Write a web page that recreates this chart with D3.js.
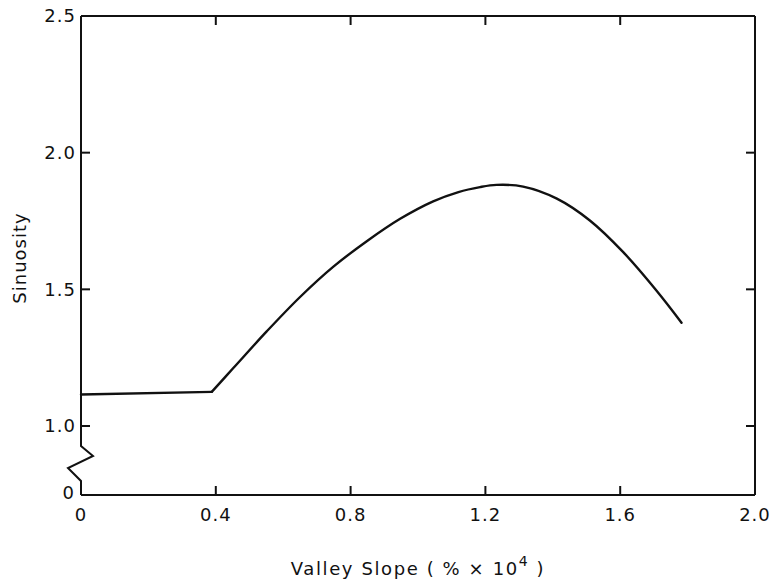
<!DOCTYPE html>
<html>
<head>
<meta charset="utf-8">
<script src="https://cdn.jsdelivr.net/npm/d3@7"></script>
<style>
  html, body { margin: 0; padding: 0; background: #fff; }
  svg { display: block; }
  text { font-family: "DejaVu Sans", sans-serif; fill: #111; }
</style>
</head>
<body>
<svg id="chart" width="779" height="580"></svg>
<script>
// ---- data ----
const slope = [0.0, 0.388, 0.452, 0.551, 0.650, 0.749, 0.848, 0.947, 1.045, 1.120, 1.184, 1.233, 1.312, 1.412, 1.510, 1.609, 1.708, 1.782];
const sinuosity = [1.115, 1.125, 1.212, 1.346, 1.472, 1.583, 1.676, 1.758, 1.822, 1.856, 1.874, 1.882, 1.876, 1.832, 1.752, 1.636, 1.495, 1.378];
const xTicks = [0, 0.4, 0.8, 1.2, 1.6, 2.0];
const xTickLabels = ["0", "0.4", "0.8", "1.2", "1.6", "2.0"];
const yTicks = [0, 1.0, 1.5, 2.0, 2.5];
const yTickLabels = ["0", "1.0", "1.5", "2.0", "2.5"];
const xTitle = "Valley Slope ( % \u00D7 10";
const xTitleSup = "4";
const yTitle = "Sinuosity";

// ---- layout ----
const pLeft = 81, pRight = 755, pTop = 16, pBottom = 495;
const svg = d3.select("#chart");

const x = d3.scaleLinear().domain([0, 2.0]).range([pLeft, pRight]);
// broken axis: 0..1.0 is compressed
const y = d3.scaleLinear().domain([0, 1.0, 2.5]).range([pBottom, 426, pTop]);

const stroke = "#111";
const tickLen = 9;

const g = svg.append("g");
g.append("line").attr("x1", pLeft).attr("x2", pRight).attr("y1", pTop).attr("y2", pTop)
  .attr("stroke", stroke).attr("stroke-width", 2);
g.append("line").attr("x1", pRight).attr("x2", pRight).attr("y1", pTop).attr("y2", pBottom)
  .attr("stroke", stroke).attr("stroke-width", 2);
g.append("line").attr("x1", pLeft).attr("x2", pRight).attr("y1", pBottom).attr("y2", pBottom)
  .attr("stroke", stroke).attr("stroke-width", 2);

// left axis with zigzag break between 0 and 1.0
const yBreakTop = y(1.0) + 20, yBreakBot = pBottom - 14;
const zig = [
  [pLeft, pTop], [pLeft, yBreakTop],
  [pLeft + 12, yBreakTop + 10],
  [pLeft - 13, yBreakTop + 22],
  [pLeft, yBreakBot],
  [pLeft, pBottom]
];
g.append("path").attr("d", d3.line()(zig)).attr("fill", "none")
  .attr("stroke", stroke).attr("stroke-width", 2).attr("stroke-linejoin", "miter");

// x ticks (bottom and top, inward)
xTicks.forEach((t, i) => {
  if (i > 0 && i < xTicks.length - 1) {
    g.append("line").attr("x1", x(t)).attr("x2", x(t)).attr("y1", pBottom).attr("y2", pBottom - tickLen)
      .attr("stroke", stroke).attr("stroke-width", 2);
    g.append("line").attr("x1", x(t)).attr("x2", x(t)).attr("y1", pTop).attr("y2", pTop + tickLen)
      .attr("stroke", stroke).attr("stroke-width", 2);
  }
  g.append("text").attr("x", x(t)).attr("y", pBottom + 26)
    .attr("text-anchor", "middle").attr("font-size", 18).attr("letter-spacing", 1)
    .text(xTickLabels[i]);
});

// y ticks (left and right, inward)
yTicks.forEach((t, i) => {
  if (t > 0 && t < 2.5) {
    g.append("line").attr("x1", pLeft).attr("x2", pLeft + tickLen).attr("y1", y(t)).attr("y2", y(t))
      .attr("stroke", stroke).attr("stroke-width", 2);
    g.append("line").attr("x1", pRight).attr("x2", pRight - tickLen).attr("y1", y(t)).attr("y2", y(t))
      .attr("stroke", stroke).attr("stroke-width", 2);
  }
  g.append("text").attr("x", t === 0 ? pLeft - 6 : pLeft - 5).attr("y", y(t) + (t === 0 ? -2 : 0))
    .attr("dy", "0.36em")
    .attr("text-anchor", "end").attr("font-size", 18).attr("letter-spacing", 1)
    .text(yTickLabels[i]);
});

// curve: flat linear part, then smooth hump
const pts = slope.map((s, i) => [x(s), y(sinuosity[i])]);
g.append("path").attr("d", d3.line()(pts.slice(0, 2)))
  .attr("fill", "none").attr("stroke", stroke).attr("stroke-width", 2.4)
  .attr("stroke-linecap", "round");
g.append("path").attr("d", d3.line().curve(d3.curveCatmullRom.alpha(0.5))(pts.slice(1)))
  .attr("fill", "none").attr("stroke", stroke).attr("stroke-width", 2.4)
  .attr("stroke-linejoin", "round").attr("stroke-linecap", "round");

// axis titles
const xt = g.append("text").attr("x", 418).attr("y", 575)
  .attr("text-anchor", "middle").attr("font-size", 18).attr("letter-spacing", 1.6);
xt.append("tspan").text(xTitle);
xt.append("tspan").attr("dy", -9).attr("font-size", 14).text(xTitleSup);
xt.append("tspan").attr("dy", 9).text(" )");

g.append("text").attr("transform", "translate(26,258) rotate(-90)")
  .attr("text-anchor", "middle").attr("font-size", 18).attr("letter-spacing", 1)
  .text(yTitle);
</script>
</body>
</html>
